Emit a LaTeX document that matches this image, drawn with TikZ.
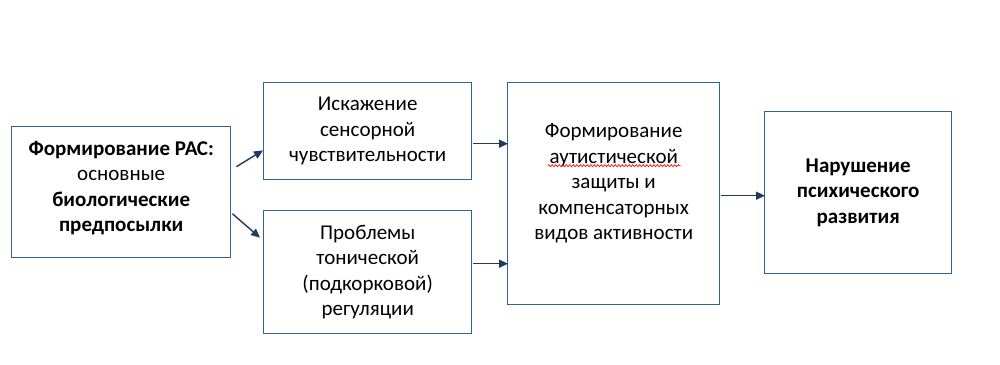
\documentclass[tikz,border=0pt]{standalone}
\usepackage{fontspec}
\setmainfont{Carlito}
\usetikzlibrary{arrows.meta,decorations.pathmorphing}
\definecolor{boxc}{HTML}{2F6496}
\definecolor{arrc}{HTML}{1F3B5A}
\begin{document}
\begin{tikzpicture}[x=1pt,y=-1pt,
 box/.style={draw=boxc,line width=1.4pt,fill=white,inner sep=0pt,anchor=north west},
 txt/.style={align=center,font=\fontsize{21}{25.5}\selectfont,inner sep=0pt},
 arr/.style={draw=arrc,line width=1.4pt,-{Triangle[length=9pt,width=8pt]}},
 spell/.style={draw=red,line width=0.7pt,decorate,decoration={snake,amplitude=1pt,segment length=3.5pt}}]
\useasboundingbox[fill=white] (0,0) rectangle (1000,364);
\node[box,minimum width=219pt,minimum height=131pt] (b1) at (11,126) {};
\node[box,minimum width=208pt,minimum height=97pt] (b2) at (263,82) {};
\node[box,minimum width=208pt,minimum height=123pt] (b3) at (263,210) {};
\node[box,minimum width=212pt,minimum height=222pt] (b4) at (507,82) {};
\node[box,minimum width=187pt,minimum height=162pt] (b5) at (764,111) {};
\node[txt,yshift=4pt] (t1) at (b1.center) {\textbf{Формирование РАС:}\\основные\\\textbf{биологические}\\\textbf{предпосылки}};
\node[txt] (t2) at (b2.center) {Искажение\\сенсорной\\чувствительности};
\node[txt] (t3) at (b3.center) {Проблемы\\тонической\\(подкорковой)\\регуляции};
\node[txt,yshift=10.5pt] (t4) at (b4.center) {Формирование\\аутистической\\защиты и\\компенсаторных\\видов активности};
\node[txt] (t5) at (b5.center) {\textbf{Нарушение}\\\textbf{психического}\\\textbf{развития}};
\draw[spell] ([shift={(-66,-17.5)}]t4.center) -- ([shift={(67,-17.5)}]t4.center);
\draw[arr] ([shift={(5,-25.5)}]b1.east) -- ([shift={(0,-30)}]b2.south west);
\draw[arr] ([shift={(1,21.5)}]b1.east) -- ([shift={(-3,-34.5)}]b3.west);
\draw[arr] ([shift={(1,12.5)}]b2.east) -- ([shift={(1,12.5)}]b2.east -| b4.west);
\draw[arr] ([shift={(1,-8.5)}]b3.east) -- ([shift={(1,-8.5)}]b3.east -| b4.west);
\draw[arr] ([shift={(1,2)}]b4.east) -- ([shift={(1,2)}]b4.east -| b5.west);
\end{tikzpicture}
\end{document}
